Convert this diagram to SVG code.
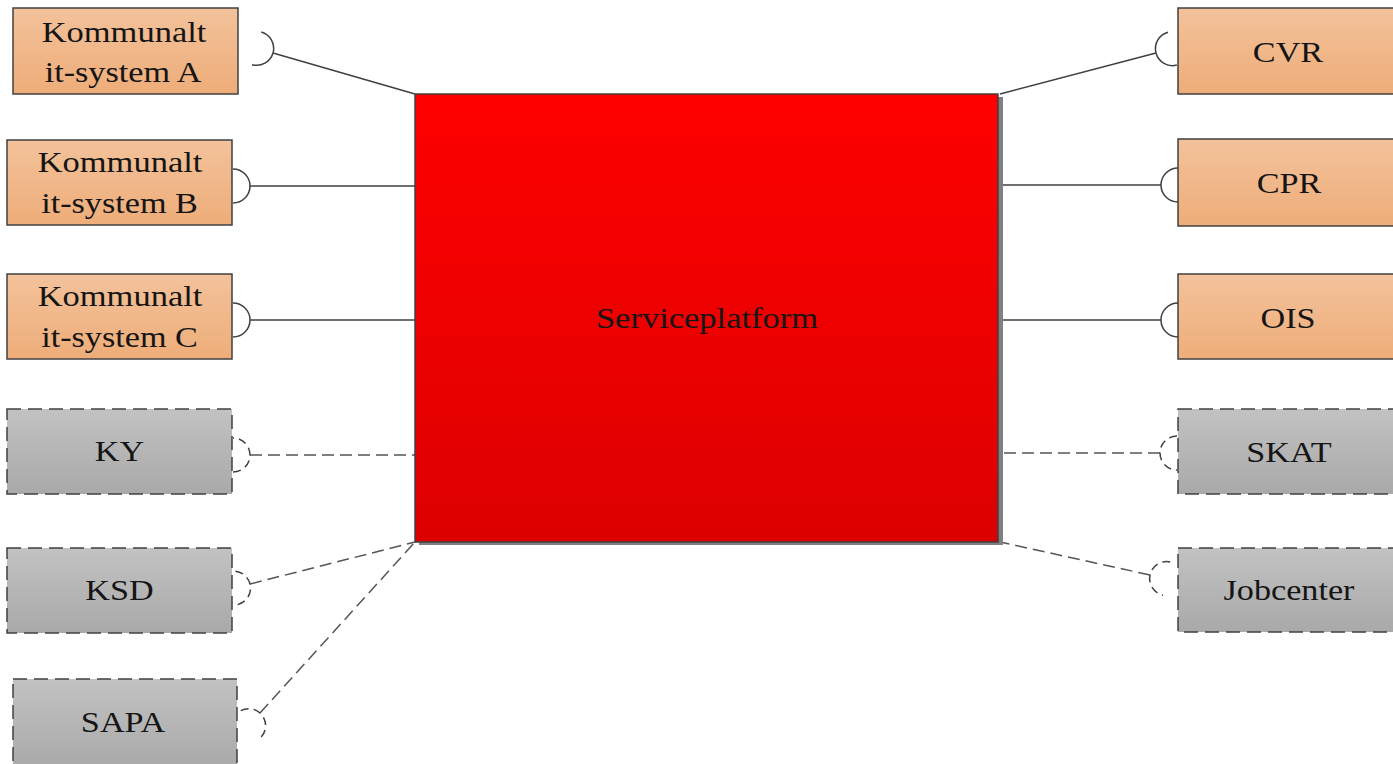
<svg xmlns="http://www.w3.org/2000/svg" width="1393" height="764" viewBox="0 0 1393 764">
<defs>
<linearGradient id="gOrange" x1="0" y1="0" x2="0" y2="1"><stop offset="0" stop-color="#f3c29b"/><stop offset="1" stop-color="#eead79"/></linearGradient>
<linearGradient id="gGray" x1="0" y1="0" x2="0" y2="1"><stop offset="0" stop-color="#c2c2c2"/><stop offset="1" stop-color="#a9a9a9"/></linearGradient>
<linearGradient id="gRed" x1="0" y1="0" x2="0" y2="1"><stop offset="0" stop-color="#ff0000"/><stop offset="1" stop-color="#dc0000"/></linearGradient>
</defs>
<style>
text{font-family:"Liberation Serif","Times New Roman",serif;font-size:30px;fill:#151515;text-anchor:middle}
.solid{fill:url(#gOrange);stroke:#404040;stroke-width:1.5}
.dash{fill:url(#gGray);stroke:#404040;stroke-width:1.5;stroke-dasharray:14 7}
.ln{fill:none;stroke:#404040;stroke-width:1.5}
.dl{fill:none;stroke:#555;stroke-width:1.5;stroke-dasharray:12 6}
.sk{fill:none;stroke:#404040;stroke-width:1.5}
.skd{fill:none;stroke:#404040;stroke-width:1.5;stroke-dasharray:8 5}
</style>
<rect width="1393" height="764" fill="#ffffff"/>
<g id="connectors">
<line class="ln" x1="273" y1="53" x2="415" y2="94"/>
<line class="ln" x1="250" y1="186" x2="415" y2="186"/>
<line class="ln" x1="250" y1="320" x2="415" y2="320"/>
<line class="dl" x1="250" y1="455" x2="415" y2="455"/>
<line class="dl" x1="250" y1="584" x2="415" y2="542"/>
<line class="dl" x1="260" y1="713" x2="415" y2="542"/>
<line class="ln" x1="1156" y1="53" x2="1000" y2="94"/>
<line class="ln" x1="1161" y1="185" x2="1000" y2="185"/>
<line class="ln" x1="1161" y1="320" x2="1000" y2="320"/>
<line class="dl" x1="1160" y1="453" x2="1000" y2="453"/>
<line class="dl" x1="1150" y1="575" x2="1000" y2="542"/>
<path class="sk" d="M17,-17 A17,17 0 0 0 17,17" transform="translate(273,53) rotate(196)"/>
<path class="sk" d="M17,-17 A17,17 0 0 0 17,17" transform="translate(250,186) rotate(180)"/>
<path class="sk" d="M17,-17 A17,17 0 0 0 17,17" transform="translate(250,320) rotate(180)"/>
<path class="skd" d="M17,-17 A17,17 0 0 0 17,17" transform="translate(250,455) rotate(180)"/>
<path class="skd" d="M17,-17 A17,17 0 0 0 17,17" transform="translate(250,584) rotate(166)"/>
<path class="skd" d="M17,-17 A17,17 0 0 0 17,17" transform="translate(260,713) rotate(132)"/>
<path class="sk" d="M17,-17 A17,17 0 0 0 17,17" transform="translate(1156,53) rotate(-15)"/>
<path class="sk" d="M17,-17 A17,17 0 0 0 17,17" transform="translate(1161,185)"/>
<path class="sk" d="M17,-17 A17,17 0 0 0 17,17" transform="translate(1161,320)"/>
<path class="skd" d="M17,-17 A17,17 0 0 0 17,17" transform="translate(1160,453)"/>
<path class="skd" d="M17,-17 A17,17 0 0 0 17,17" transform="translate(1150,575) rotate(12)"/>
</g>
<g id="serviceplatform">
<rect x="419" y="97" width="584" height="448" fill="#808080"/>
<rect x="415" y="94" width="583" height="448" fill="url(#gRed)" stroke="#404040" stroke-width="1.5"/>
<text transform="translate(707,328) scale(1.15,1)">Serviceplatform</text>
</g>
<g id="kommunalt-a"><rect class="solid" x="13" y="8" width="225" height="86"/><text transform="translate(124,42) scale(1.15,1)">Kommunalt</text><text transform="translate(123,82) scale(1.14,1)">it-system A</text></g>
<g id="kommunalt-b"><rect class="solid" x="7" y="140" width="225" height="85"/><text transform="translate(120,172) scale(1.15,1)">Kommunalt</text><text transform="translate(119.5,213) scale(1.14,1)">it-system B</text></g>
<g id="kommunalt-c"><rect class="solid" x="7" y="274" width="225" height="85"/><text transform="translate(120,306) scale(1.15,1)">Kommunalt</text><text transform="translate(119.5,347) scale(1.14,1)">it-system C</text></g>
<g id="ky"><rect class="dash" x="7" y="409" width="225" height="85"/><text transform="translate(119.5,461) scale(1.14,1)">KY</text></g>
<g id="ksd"><rect class="dash" x="7" y="548" width="225" height="85"/><text transform="translate(119.5,600) scale(1.14,1)">KSD</text></g>
<g id="sapa"><rect class="dash" x="13" y="679" width="224" height="90"/><text transform="translate(123,732) scale(1.14,1)">SAPA</text></g>
<g id="cvr"><rect class="solid" x="1178" y="8" width="220" height="86"/><text transform="translate(1288,62) scale(1.14,1)">CVR</text></g>
<g id="cpr"><rect class="solid" x="1178" y="139" width="220" height="87"/><text transform="translate(1289,193) scale(1.14,1)">CPR</text></g>
<g id="ois"><rect class="solid" x="1178" y="274" width="220" height="85"/><text transform="translate(1288,328) scale(1.14,1)">OIS</text></g>
<g id="skat"><rect class="dash" x="1178" y="409" width="220" height="85"/><text transform="translate(1289,462) scale(1.14,1)">SKAT</text></g>
<g id="jobcenter"><rect class="dash" x="1178" y="548" width="220" height="84"/><text transform="translate(1289,600) scale(1.14,1)">Jobcenter</text></g>
</svg>
